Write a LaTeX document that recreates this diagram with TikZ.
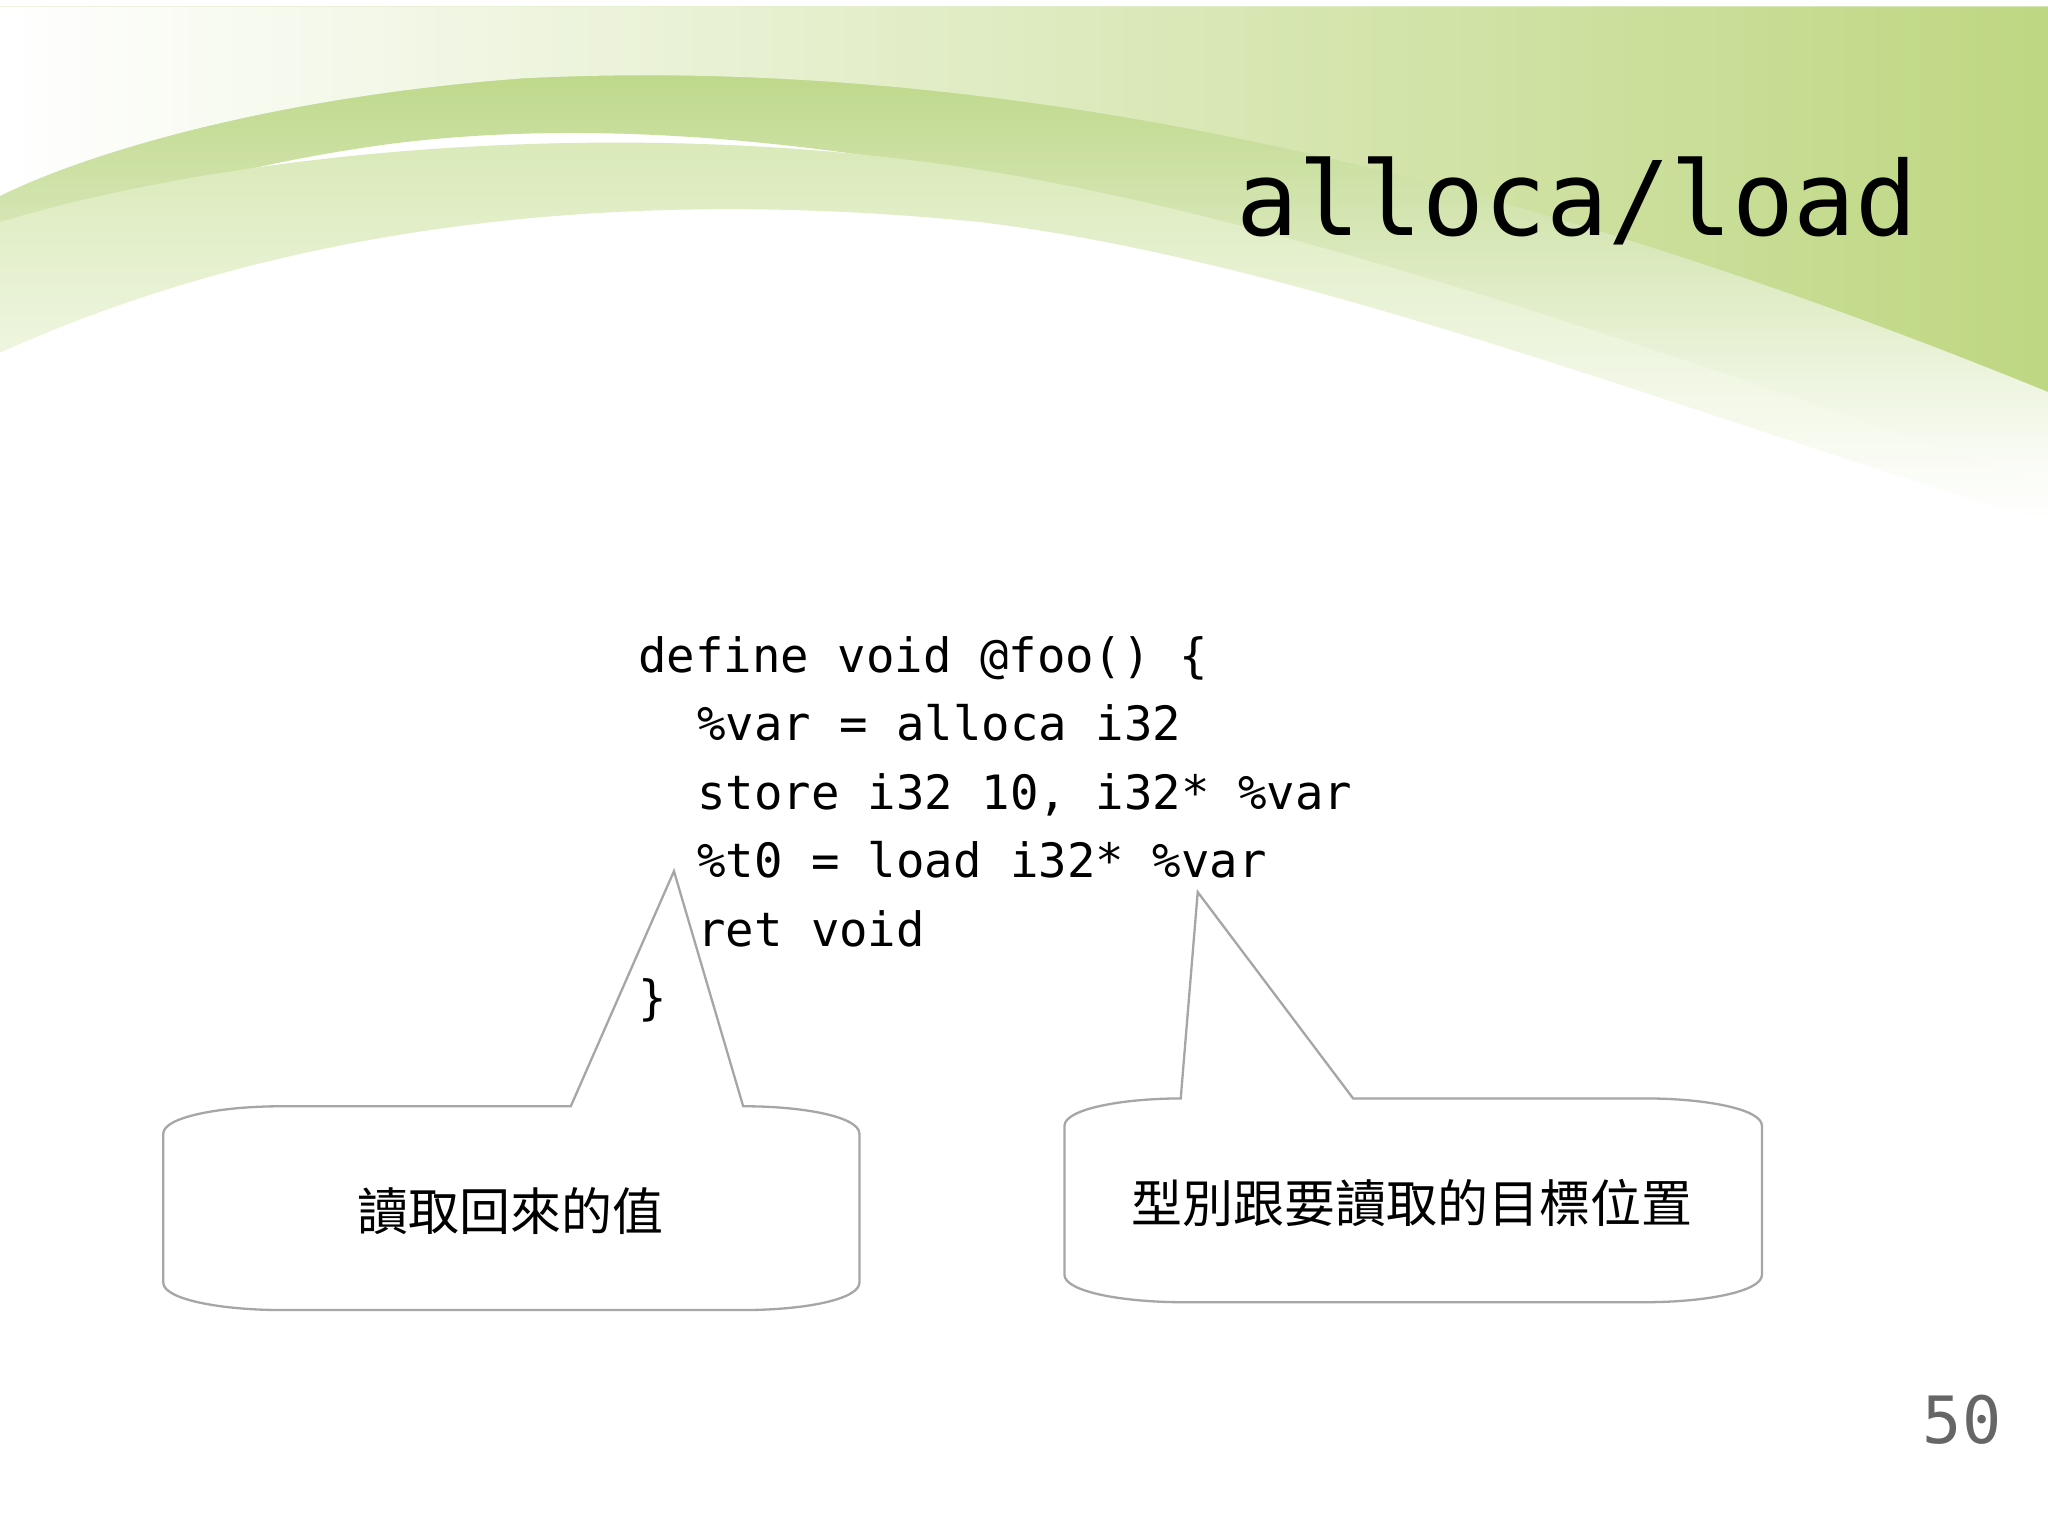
\documentclass[tikz,border=0pt]{standalone}
\usepackage{fontspec}
\setmonofont{DejaVu Sans Mono}
\newfontfamily\cjk{Noto Sans CJK TC}
\begin{document}
\begin{tikzpicture}[x=0.01cm,y=-0.01cm,
  code/.style={anchor=base west,inner sep=0pt,font=\ttfamily\fontsize{10.3pt}{12pt}\selectfont},
  callout/.style={draw=gray!70,line width=0.5pt,fill=white},
  lbl/.style={inner sep=0pt,font=\cjk\fontsize{11.1pt}{13pt}\selectfont}]
\useasboundingbox (0,0) rectangle (1568,1176);
\fill[white] (0,0) rectangle (1568,1176);
% background swoosh
\shade[top color={rgb,255:red,180;green,210;blue,120},bottom color=white]
  (0,5) -- (1568,5) -- (1568,380) .. controls (1200,250) and (700,60) .. (300,110) .. controls (150,130) and (50,170) .. (0,190) -- cycle;
\shade[left color=white,right color={rgb,255:red,190;green,215;blue,130}]
  (0,5) -- (1568,5) -- (1568,300) .. controls (1200,150) and (800,40) .. (400,60) .. controls (200,75) and (60,120) .. (0,150) -- cycle;
\shade[top color={rgb,255:red,215;green,232;blue,180},bottom color=white]
  (0,170) .. controls (200,110) and (500,90) .. (750,130) .. controls (1000,170) and (1300,280) .. (1568,370) -- (1568,400) .. controls (1300,320) and (1000,200) .. (750,170) .. controls (450,140) and (200,180) .. (0,270) -- cycle;
\node[anchor=base west,inner sep=0pt,font=\ttfamily\fontsize{22.4pt}{26pt}\selectfont] (title) at (946,180) {alloca/load};
% callouts
\draw[callout] (125,868) .. controls (125,855) and (170,847) .. (215,847) -- (437,847) -- (516,667) -- (569,847) -- (570,847) .. controls (615,847) and (658,855) .. (658,868) -- (658,982) .. controls (658,995) and (615,1003) .. (570,1003) -- (215,1003) .. controls (170,1003) and (125,995) .. (125,982) -- cycle;
\draw[callout] (815,862) .. controls (815,849) and (860,841) .. (904,841) -- (917,683) -- (1036,841) -- (1260,841) .. controls (1305,841) and (1349,849) .. (1349,862) -- (1349,976) .. controls (1349,989) and (1305,997) .. (1260,997) -- (905,997) .. controls (860,997) and (815,989) .. (815,976) -- cycle;
\node[lbl] (t1) at (391,927) {讀取回來的值};
\node[lbl] (t2) at (1081,921) {型別跟要讀取的目標位置};
% code
\node[code] (l1) at (488,515) {define void @foo() \{};
\node[code] (l2) at (533,567) {\%var = alloca i32};
\node[code] (l3) at (533,620) {store i32 10, i32* \%var};
\node[code] (l4) at (533,672) {\%t0 = load i32* \%var};
\node[code] (l5) at (533,725) {ret void};
\node[code] (l6) at (488,777) {\}};
\node[anchor=base east,inner sep=0pt,text=gray!80!black,font=\ttfamily\fontsize{14.2pt}{16pt}\selectfont] (pg) at (1533,1105) {50};
\end{tikzpicture}
\end{document}
